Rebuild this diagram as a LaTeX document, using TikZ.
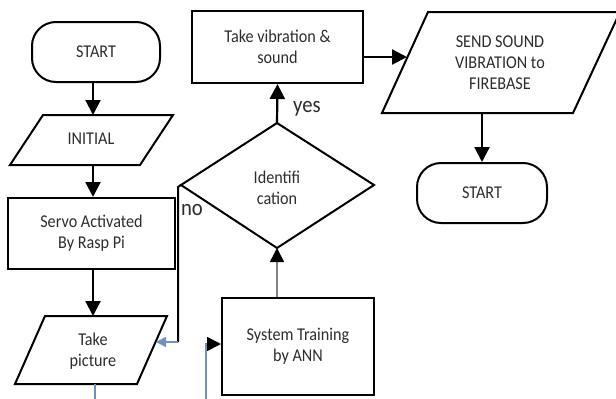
\documentclass[tikz,border=0pt]{standalone}
\usepackage{fontspec}
\setmainfont{Carlito}[FakeStretch=0.9]
\usetikzlibrary{arrows.meta}
\definecolor{linkblue}{RGB}{110,145,195}
\definecolor{txt}{RGB}{45,45,45}
\definecolor{linkgray}{RGB}{130,130,130}
\begin{document}
\begin{tikzpicture}[x=1pt, y=-1pt,
  outline/.style={draw=black, line width=2pt, fill=white, line join=miter},
  boxnode/.style={outline, rectangle, inner sep=0pt, align=center, text=txt,
    font=\fontsize{18}{21}\selectfont},
  term/.style={boxnode, rounded corners=24pt},
  lbl/.style={text=txt, font=\fontsize{18}{21}\selectfont, align=center, inner sep=0pt},
  big/.style={text=txt, font=\fontsize{23}{26}\selectfont, inner sep=0pt},
  head/.style={-{Triangle[length=15pt,width=15pt]}},
  flow/.style={line width=2.2pt, head},
  blueflow/.style={draw=linkblue, line width=1.6pt},
]
\useasboundingbox (0,0) rectangle (616,399);
\clip (0,0) rectangle (616,399);
\fill[white] (0,0) rectangle (616,399);

% ---- left column ----
\node[term, minimum width=128pt, minimum height=60pt] (start1) at (96,52) {START};

\draw[outline] (43,115) -- (173,115) -- (140,165) -- (10,165) -- cycle;
\node[lbl] (initial) at (91,139) {INITIAL};
\coordinate (initial-top) at (93,115);
\coordinate (initial-bot) at (93,165);

\node[boxnode, minimum width=167pt, minimum height=71pt] (servo) at (91.5,233.5)
  {Servo Activated\\By Rasp Pi};

\draw[outline] (45,316) -- (167,316) -- (137,384) -- (15,384) -- cycle;
\node[lbl] (picture) at (93,351) {Take\\picture};
\coordinate (picture-top) at (93,316);
\coordinate (picture-bot) at (95,384);
\coordinate (picture-right) at (156,342);
\coordinate (picture-out) at (95,399);

\draw[flow] ([xshift=-3pt]start1.south) -- (initial-top);
\draw[flow] (initial-bot) -- ([xshift=1.5pt]servo.north);
\draw[flow] ([xshift=1.5pt]servo.south) -- (picture-top);
\draw[blueflow] (picture-bot) -- (picture-out);

% ---- decision ----
\draw[outline] (277,123) -- (374,185) -- (277,248) -- (181,185) -- cycle;
\node[lbl] (ident) at (277,188) {Identifi\\cation};
\coordinate (ident-top) at (277,123);
\coordinate (ident-bot) at (277,248);
\coordinate (ident-left) at (181,185);
\coordinate (no-corner) at (178,342);

\node[boxnode, minimum width=171pt, minimum height=72pt] (vib) at (277.5,47)
  {Take vibration \&\\sound};

\node[boxnode, minimum width=152pt, minimum height=97pt] (ann) at (298,346.5)
  {System Training\\by ANN};
\coordinate (ann-in) at (206,399);

\draw[flow] (ident-top) -- (vib.south);
\node[big] (yes) at (307,109) {yes};

\draw[line width=2pt] (ident-left) -- (178,187) -- (no-corner);
\draw[blueflow, -{Triangle[length=10pt,width=10pt,color=linkblue]}] (no-corner) -- (picture-right);
\node[big] (no) at (192,210) {no};

\draw[draw=linkgray, line width=1.6pt, -{Triangle[length=14pt,width=14pt,color=black]}]
  (ann.north -| ident-bot) -- (ident-bot);
\draw[blueflow, -{Triangle[length=14pt,width=14pt,color=black]}]
  (ann-in) -- (206,344) -- (ann.west |- 0,344);

% ---- right column ----
\draw[outline] (428,12) -- (620,12) -- (573,113) -- (382,113) -- cycle;
\node[lbl] (send) at (500,63) {SEND SOUND\\VIBRATION to\\FIREBASE};
\coordinate (send-left) at (407,57);
\coordinate (send-bot) at (482,113);

\node[term, minimum width=130pt, minimum height=60pt] (start2) at (482,193) {START};

\draw[flow] (vib.east |- 0,57) -- (send-left);
\draw[flow] (send-bot) -- (start2.north);
\end{tikzpicture}
\end{document}
